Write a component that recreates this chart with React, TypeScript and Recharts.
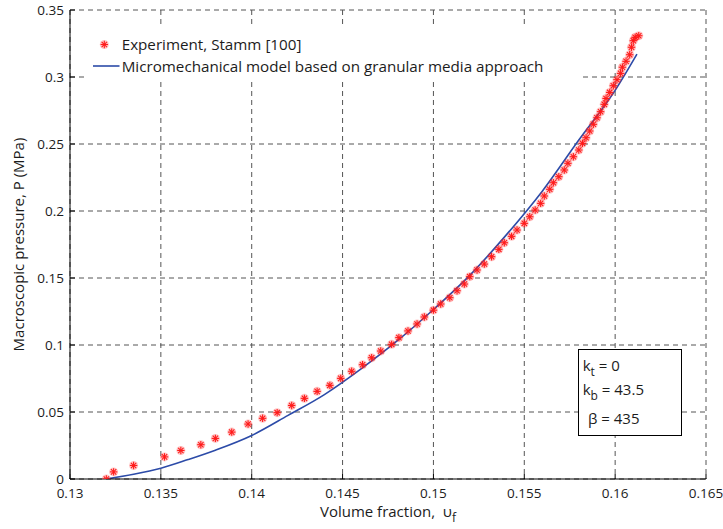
import { ComposedChart, Line, Scatter, XAxis, YAxis, CartesianGrid } from 'recharts';

// measured points, Stamm [100]
const expVolume = [
  0.132, 0.1324, 0.1335, 0.1352, 0.1361, 0.1372, 0.138, 0.1389, 0.1398, 0.1406,
  0.1414, 0.1422, 0.1429, 0.1436, 0.1443, 0.1449, 0.1455, 0.1461, 0.1466, 0.1471,
  0.1477, 0.1481, 0.1486, 0.1491, 0.1495, 0.15, 0.1504, 0.1509, 0.1513, 0.1517,
  0.152, 0.1524, 0.1528, 0.1532, 0.1536, 0.1539, 0.1543, 0.1546, 0.155, 0.1553,
  0.1556, 0.1559, 0.1561, 0.1564, 0.1566, 0.1569, 0.1572, 0.1574, 0.1577, 0.158,
  0.1582, 0.1584, 0.1586, 0.1588, 0.159, 0.1592, 0.1594, 0.1595, 0.1597, 0.1599,
  0.1601, 0.1603, 0.1604, 0.1606, 0.1608, 0.1609, 0.161, 0.1611, 0.1613,
];
const expPressure = [
  0.0, 0.0053, 0.0101, 0.0165, 0.0213, 0.0256, 0.0303, 0.035, 0.041, 0.0453,
  0.0495, 0.0549, 0.0602, 0.0654, 0.0699, 0.0751, 0.0804, 0.0853, 0.0905, 0.0955,
  0.1005, 0.1055, 0.1105, 0.1157, 0.1209, 0.126, 0.1306, 0.1353, 0.1405, 0.1455,
  0.151, 0.156, 0.1604, 0.1659, 0.1714, 0.1763, 0.1811, 0.1858, 0.1908, 0.1957,
  0.2007, 0.2057, 0.2112, 0.2162, 0.2211, 0.2256, 0.2306, 0.2356, 0.2405, 0.2455,
  0.2505, 0.2547, 0.2597, 0.2647, 0.2696, 0.2741, 0.2796, 0.284, 0.2885, 0.2935,
  0.298, 0.3027, 0.3073, 0.3117, 0.3166, 0.3222, 0.3271, 0.3296, 0.3308,
];

// micromechanical model curve
const modelVolume = [
  0.132, 0.1335, 0.135, 0.1365, 0.138, 0.14, 0.142, 0.144, 0.146, 0.148,
  0.15, 0.152, 0.154, 0.156, 0.158, 0.16, 0.1612,
];
const modelPressure = [
  0.0, 0.0035, 0.008, 0.0145, 0.0215, 0.0325, 0.0475, 0.063, 0.082, 0.103,
  0.1265, 0.152, 0.182, 0.215, 0.253, 0.29, 0.317,
];

const xTicks = [0.13, 0.135, 0.14, 0.145, 0.15, 0.155, 0.16, 0.165];
const xTickLabels = ['0.13', '0.135', '0.14', '0.145', '0.15', '0.155', '0.16', '0.165'];
const yTicks = [0, 0.05, 0.1, 0.15, 0.2, 0.25, 0.3, 0.35];
const yTickLabels = ['0', '0.05', '0.1', '0.15', '0.2', '0.25', '0.3', '0.35'];

const expData = expVolume.map((x, i) => ({ x, p: expPressure[i] }));
const modelData = modelVolume.map((x, i) => ({ x, p: modelPressure[i] }));

const FONT = '"Open Sans", sans-serif';
const INK = '#1c1c1c';
const RED = '#ff1a1a';
const BLUE = '#2c4ba8';

function Star({ cx, cy }: any) {
  if (cx == null || cy == null) return null;
  const r = 3.7;
  const d = r * 0.72;
  return (
    <g>
      <circle cx={cx} cy={cy} r={4.5} fill={RED} fillOpacity={0.25} />
      <line x1={cx - r} y1={cy} x2={cx + r} y2={cy} stroke={RED} strokeWidth={1.1} />
      <line x1={cx} y1={cy - r} x2={cx} y2={cy + r} stroke={RED} strokeWidth={1.1} />
      <line x1={cx - d} y1={cy - d} x2={cx + d} y2={cy + d} stroke={RED} strokeWidth={1.1} />
      <line x1={cx - d} y1={cy + d} x2={cx + d} y2={cy - d} stroke={RED} strokeWidth={1.1} />
    </g>
  );
}

const BottomTick = ({ x, y, index }: any) => (
  <g>
    <line x1={x} x2={x} y1={y} y2={y - 5} stroke="#000" />
    <text x={x} y={y + 19} textAnchor="middle" fontFamily={FONT} fontSize={13.5} fill={INK}>
      {xTickLabels[index]}
    </text>
  </g>
);

const LeftTick = ({ x, y, index }: any) => (
  <g>
    <line x1={x} x2={x + 5} y1={y} y2={y} stroke="#000" />
    <text x={x - 6} y={y + 5} textAnchor="end" fontFamily={FONT} fontSize={13.5} fill={INK}>
      {yTickLabels[index]}
    </text>
  </g>
);

const TopTick = ({ x, y }: any) => <line x1={x} x2={x} y1={y} y2={y + 5} stroke="#000" />;
const RightTick = ({ x, y }: any) => <line x1={x} x2={x - 5} y1={y} y2={y} stroke="#000" />;

export default function App() {
  return (
    <div style={{ position: 'absolute', left: 0, top: 0, width: 723, height: 529, background: '#fff' }}>
      <ComposedChart
        width={723}
        height={529}
        margin={{ top: 10, right: 17, left: 0, bottom: 0 }}
      >
        <CartesianGrid stroke="#555" strokeDasharray="5 4" />
        <XAxis
          type="number"
          dataKey="x"
          domain={[0.13, 0.165]}
          ticks={xTicks}
          allowDataOverflow
          height={50}
          tickSize={0}
          tickMargin={0}
          tickLine={false}
          axisLine={{ stroke: '#000' }}
          tick={BottomTick}
          interval={0}
        />
        <XAxis
          xAxisId="top"
          orientation="top"
          type="number"
          domain={[0.13, 0.165]}
          ticks={xTicks}
          height={0}
          tickSize={0}
          tickMargin={0}
          tickLine={false}
          axisLine={{ stroke: '#000' }}
          tick={TopTick}
          interval={0}
        />
        <YAxis
          type="number"
          domain={[0, 0.35]}
          ticks={yTicks}
          allowDataOverflow
          width={70}
          tickSize={0}
          tickMargin={0}
          tickLine={false}
          axisLine={{ stroke: '#000' }}
          tick={LeftTick}
          interval={0}
        />
        <YAxis
          yAxisId="right"
          orientation="right"
          type="number"
          domain={[0, 0.35]}
          ticks={yTicks}
          width={0}
          tickSize={0}
          tickMargin={0}
          tickLine={false}
          axisLine={{ stroke: '#000' }}
          tick={RightTick}
          interval={0}
        />
        <Line
          data={modelData}
          dataKey="p"
          type="monotone"
          stroke={BLUE}
          strokeWidth={1.6}
          dot={false}
          isAnimationActive={false}
        />
        <Scatter data={expData} dataKey="p" shape={Star} isAnimationActive={false} />
      </ComposedChart>

      <svg
        width={723}
        height={529}
        style={{ position: 'absolute', left: 0, top: 0, pointerEvents: 'none' }}
        fontFamily={FONT}
        fill={INK}
      >
        {/* legend */}
        <rect x={86} y={28} width={497} height={52} fill="#fff" />
        <Star cx={104.3} cy={44.5} />
        <text x={121.7} y={49.5} fontSize={15.2}>Experiment, Stamm [100]</text>
        <line x1={93} x2={119.5} y1={66} y2={66} stroke={BLUE} strokeWidth={1.6} />
        <text x={121.7} y={72} fontSize={15.2}>Micromechanical model based on granular media approach</text>

        {/* parameter box */}
        <rect x={578.5} y={349.5} width={103} height={86} fill="#fff" stroke="#000" />
        <text x={582.7} y={370.5} fontSize={15}>
          k<tspan fontSize={12} dy={5}>t</tspan>
          <tspan dy={-5}> = 0</tspan>
        </text>
        <text x={582.7} y={395} fontSize={15}>
          k<tspan fontSize={12} dy={5}>b</tspan>
          <tspan dy={-5}> = 43.5</tspan>
        </text>
        <text x={588} y={424} fontSize={15}>β = 435</text>

        {/* axis titles */}
        <text x={388} y={517} fontSize={15} textAnchor="middle">
          Volume fraction,{'\u00a0\u00a0'}υ<tspan fontSize={12} dy={5}>f</tspan>
        </text>
        <text
          x={24}
          y={244.5}
          fontSize={15}
          textAnchor="middle"
          transform="rotate(-90, 24, 244.5)"
        >
          Macroscopic pressure, P (MPa)
        </text>
      </svg>
    </div>
  );
}
